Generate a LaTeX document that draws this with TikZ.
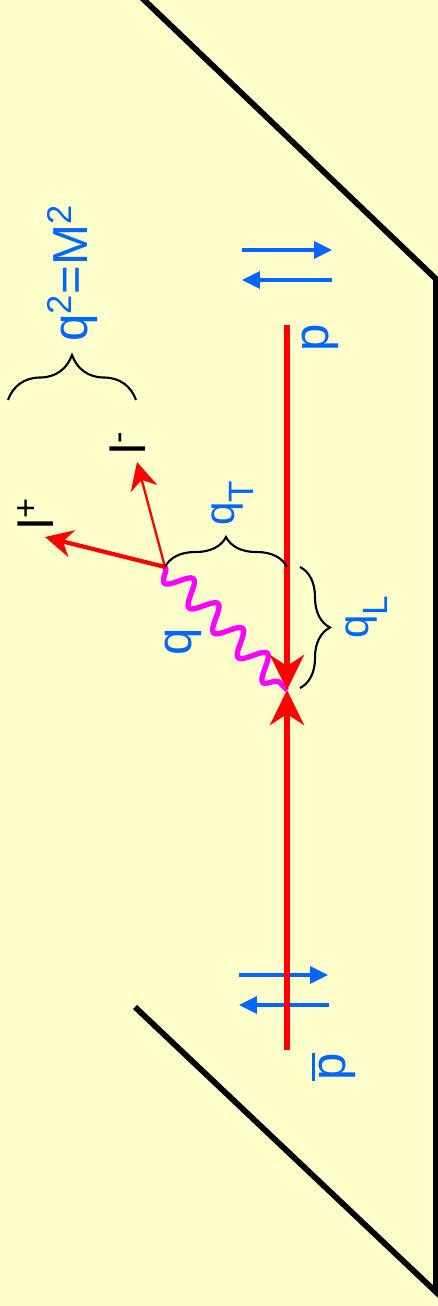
\documentclass[tikz,border=0pt]{standalone}
\usepackage{fontspec}
\setmainfont{Liberation Sans}
\usetikzlibrary{arrows.meta, decorations.pathmorphing, decorations.pathreplacing}
\definecolor{bgyellow}{RGB}{255,255,204}
\definecolor{lblblue}{RGB}{0,102,255}
\definecolor{photon}{RGB}{255,0,255}
\newcommand{\lowidx}[1]{\raisebox{-0.45em}{\fontsize{20}{20}\selectfont #1}}
\tikzset{
  frame/.style  = {draw=black, line width=3.3pt},
  beam/.style   = {draw=red, line width=3pt,
                   -{Stealth[length=0.7cm, width=0.68cm, inset=0.22cm]}},
  lepton/.style = {draw=red, -{Stealth[length=0.55cm, width=0.55cm, inset=0.18cm]}},
  spin/.style   = {draw=lblblue, line width=1.9pt, -{Triangle[length=0.36cm, width=0.34cm]}},
  boson/.style  = {draw=photon, line width=3pt, line join=round, decorate,
                   decoration={snake, mirror, segment length=0.7cm, amplitude=0.24cm}},
  cbrace/.style = {draw=black, line width=1.2pt, decorate,
                   decoration={brace, amplitude=#1}},
  lbl/.style    = {text=lblblue, rotate=90, inner sep=0pt, font=\fontsize{28}{30}\selectfont},
  slbl/.style   = {lbl, font=\fontsize{24}{26}\selectfont},
  lep/.style    = {text=black, rotate=90, inner sep=0pt, anchor=base west,
                   font=\fontsize{28}{30}\selectfont},
}
\begin{document}
\begin{tikzpicture}[x=0.02cm, y=-0.02cm]
  \useasboundingbox (0,0) rectangle (438,1306);
  \fill[bgyellow] (0,0) rectangle (438,1306);
  \clip (0,0) rectangle (438,1306);
  % points
  \coordinate (hard) at (287,690);
  \coordinate (vtx)  at (165,567);
  \coordinate (pin)  at (287,325);
  \coordinate (pbin) at (287,1050);
  \coordinate (lp)   at (45,537);
  \coordinate (lm)   at (137,462);
  % chamber outline
  \draw[frame] (140,-4) -- (436,279) -- (436,1292) -- (135,1007);
  % spin arrows
  \coordinate (sa1) at (242,250);  \coordinate (sb1) at (332,250);
  \coordinate (sa2) at (332,280);  \coordinate (sb2) at (242,280);
  \coordinate (sa3) at (239,975);  \coordinate (sb3) at (328,975);
  \coordinate (sa4) at (329,1005); \coordinate (sb4) at (239,1005);
  \draw[spin] (sa1) -- (sb1);
  \draw[spin] (sa2) -- (sb2);
  \draw[spin] (sa3) -- (sb3);
  \draw[spin] (sa4) -- (sb4);
  % photon and beams
  \draw[boson] (vtx) -- (hard);
  \draw[beam] (pin) -- (hard);
  \draw[beam] (pbin) -- (hard);
  % lepton pair
  \draw[lepton, line width=2.4pt] (vtx) -- (lp);
  \draw[lepton, line width=1.3pt] (vtx) -- (lm);
  % braces
  \coordinate (mb1) at (8,400);   \coordinate (mb2) at (136,400);
  \coordinate (tb2) at (287,567);
  \coordinate (lb1) at (300,567); \coordinate (lb2) at (300,688);
  \draw[cbrace=0.9cm] (mb1) -- (mb2);
  \draw[cbrace=0.6cm] (vtx) -- (tb2);
  \draw[cbrace=0.6cm] (lb1) -- (lb2);
  % labels
  \node[lbl] (mass) at (73,273) {q\textsuperscript{2}=M\textsuperscript{2}};
  \node[lbl] (qlab) at (183,642) {q};
  \node[slbl] (qtlab) at (233,503) {q\lowidx{T}};
  \node[slbl] (qllab) at (367,617) {q\lowidx{L}};
  \node[lbl] (plab) at (320,338) {p};
  \node[lbl] (pblab) at (334,1067) {\rlap{\rule[0.62em]{0.556em}{0.06em}}p};
  \node[lep] (lplus) at (53,530) {l\textsuperscript{+}};
  \node[lep] (lminus) at (145,455) {l\textsuperscript{-}};
\end{tikzpicture}
\end{document}
